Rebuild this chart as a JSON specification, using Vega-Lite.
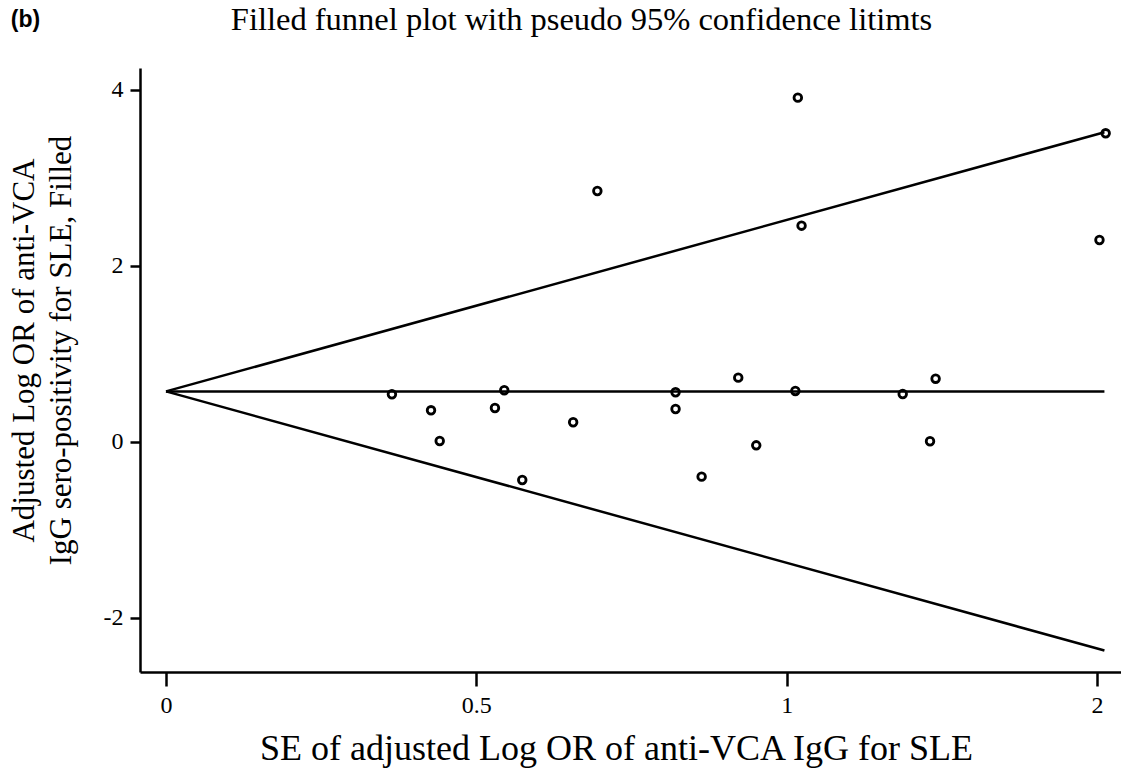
{
  "$schema": "https://vega.github.io/schema/vega-lite/v6.json",
  "width": 981,
  "height": 604,
  "autosize": {"type": "none"},
  "padding": {"left": 140, "top": 68, "right": 0, "bottom": 101},
  "background": "white",
  "config": {
    "view": {"stroke": null},
    "axis": {
      "grid": false,
      "domainColor": "black",
      "tickColor": "black",
      "labelColor": "black",
      "titleColor": "black",
      "labelFont": "Liberation Serif",
      "titleFont": "Liberation Serif",
      "domainWidth": 2.5,
      "tickWidth": 2.5,
      "titleFontWeight": "normal"
    }
  },
  "title": {
    "text": "Filled funnel plot with pseudo 95% confidence litimts",
    "font": "Liberation Serif",
    "fontSize": 32.5,
    "fontWeight": "normal",
    "color": "black",
    "anchor": "middle",
    "frame": "group",
    "dx": -49,
    "offset": -28
  },
  "datasets": {
    "funnel": [
      {"se": 0, "bound": 0.575, "line": "upper"},
      {"se": 1.512, "bound": 3.52, "line": "upper"},
      {"se": 0, "bound": 0.575, "line": "lower"},
      {"se": 1.512, "bound": -2.37, "line": "lower"},
      {"se": 0, "bound": 0.575, "line": "center"},
      {"se": 1.512, "bound": 0.575, "line": "center"}
    ],
    "studies": [
      {"se": 0.364, "logor": 0.542},
      {"se": 0.427, "logor": 0.360},
      {"se": 0.441, "logor": 0.011},
      {"se": 0.530, "logor": 0.386},
      {"se": 0.545, "logor": 0.588},
      {"se": 0.574, "logor": -0.432},
      {"se": 0.656, "logor": 0.224},
      {"se": 0.695, "logor": 2.852},
      {"se": 0.821, "logor": 0.565},
      {"se": 0.821, "logor": 0.375},
      {"se": 0.863, "logor": -0.394},
      {"se": 0.922, "logor": 0.731},
      {"se": 0.951, "logor": -0.038},
      {"se": 1.014, "logor": 0.580},
      {"se": 1.018, "logor": 3.913},
      {"se": 1.024, "logor": 2.458},
      {"se": 1.187, "logor": 0.545},
      {"se": 1.231, "logor": 0.008},
      {"se": 1.240, "logor": 0.719},
      {"se": 1.504, "logor": 2.295},
      {"se": 1.514, "logor": 3.508}
    ]
  },
  "layer": [
    {
      "data": {"name": "funnel"},
      "mark": {"type": "line", "color": "black", "strokeWidth": 2.5},
      "encoding": {
        "x": {
          "field": "se",
          "type": "quantitative",
          "scale": {"domain": [-0.0419, 1.5387], "nice": false, "zero": false},
          "axis": {
            "values": [0, 0.5, 1, 1.5],
            "labelExpr": "datum.value == 1.5 ? '2' : toString(datum.value)",
            "labelFontSize": 24,
            "tickSize": 14,
            "labelPadding": 7,
            "title": "SE of adjusted Log OR of anti-VCA IgG for SLE",
            "titleFontSize": 36,
            "titleX": 476,
            "titleY": 87,
            "titleAlign": "center",
            "titleBaseline": "alphabetic"
          }
        },
        "y": {
          "field": "bound",
          "type": "quantitative",
          "scale": {"domain": [-2.614, 4.25], "nice": false, "zero": false},
          "axis": {
            "values": [-2, 0, 2, 4],
            "labelExpr": "toString(datum.value)",
            "labelFontSize": 24,
            "tickSize": 10,
            "labelPadding": 7,
            "title": ["Adjusted Log OR of anti-VCA", "IgG sero-positivity for SLE, Filled"],
            "titleFontSize": 31,
            "titleLineHeight": 37,
            "titleAngle": -90,
            "titleX": -131,
            "titleY": 282,
            "titleAlign": "center",
            "titleBaseline": "top"
          }
        },
        "detail": {"field": "line"}
      }
    },
    {
      "data": {"name": "studies"},
      "mark": {"type": "point", "shape": "circle", "filled": false, "color": "black", "strokeWidth": 2.8, "size": 58, "opacity": 1},
      "encoding": {
        "x": {"field": "se", "type": "quantitative"},
        "y": {"field": "logor", "type": "quantitative"}
      }
    },
    {
      "data": {"values": [{"label": "(b)"}]},
      "mark": {"type": "text", "font": "Liberation Sans", "fontWeight": "bold", "fontSize": 23, "align": "left", "baseline": "middle", "color": "black"},
      "encoding": {
        "x": {"datum": -0.25, "type": "quantitative"},
        "y": {"datum": 4.8, "type": "quantitative"},
        "text": {"field": "label"}
      }
    }
  ]
}
